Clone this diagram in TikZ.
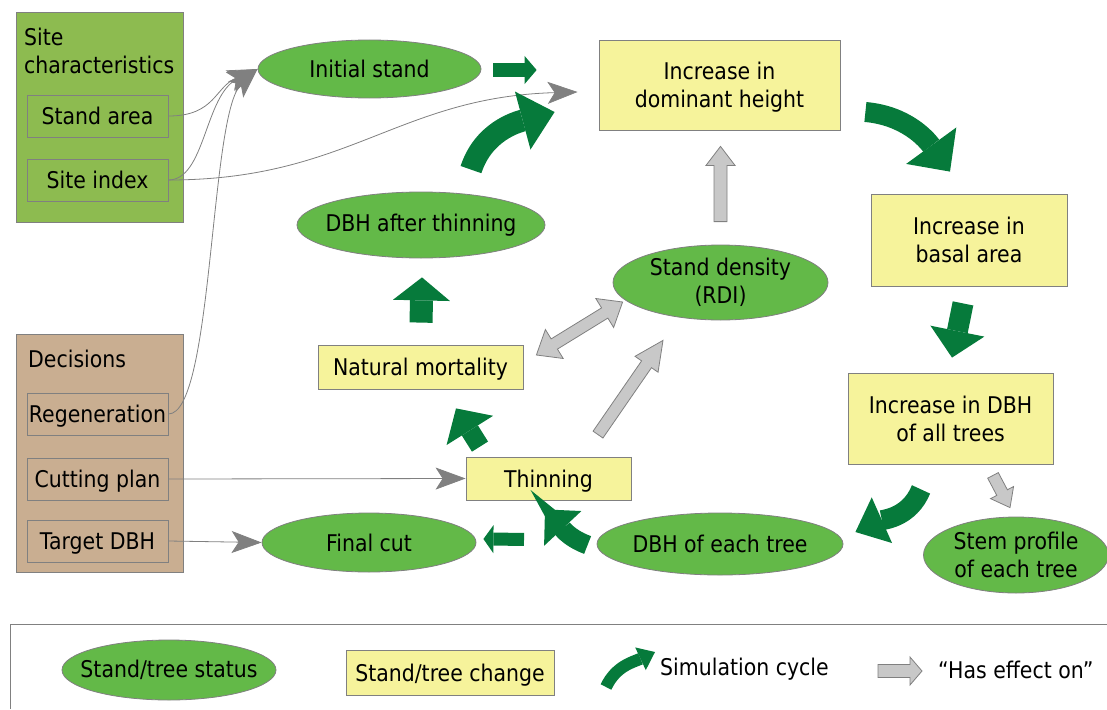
\documentclass[tikz,border=0pt]{standalone}
\usepackage{fontspec}
\setmainfont{DejaVu Sans}[FakeStretch=0.89]
\definecolor{sitegreen}{RGB}{141, 187, 80}
\definecolor{decisiontan}{RGB}{201, 174, 145}
\definecolor{statusgreen}{RGB}{99, 185, 72}
\definecolor{changeyellow}{RGB}{246, 243, 155}
\definecolor{cyclegreen}{RGB}{6, 122, 59}
\definecolor{effectgray}{RGB}{200, 200, 200}
\definecolor{linegray}{RGB}{128, 128, 128}
\usetikzlibrary{shapes.geometric, arrows.meta, calc}
\tikzset{
  statusnode/.style={ellipse, draw=linegray, fill=statusgreen, align=center, inner xsep=-25pt, inner ysep=-8pt, line width=0.8pt},
  changenode/.style={rectangle, draw=linegray, fill=changeyellow, align=center, inner sep=2pt, text depth=0pt, line width=0.8pt},
  inputnode/.style={rectangle, draw=linegray, fill=#1, minimum width=141pt, minimum height=42pt, inner sep=0pt, text depth=0pt, line width=0.8pt},
  groupbox/.style={rectangle, draw=linegray, fill=#1, inner sep=0pt, anchor=north west, line width=0.8pt},
  infoline/.style={draw=linegray, line width=0.8pt, -{Stealth[length=30pt, width=22pt, inset=7pt]}},
  cyclearrow/.style n args={3}{draw=cyclegreen, line width=#1, -{Triangle[width=#2, length=#3, line width=0pt]}},
  effectfill/.style={draw=linegray, fill=effectgray, line width=0.8pt, line join=miter},
}
\newcommand{\effectarrow}[5]{%
  \coordinate (eab) at ($(#2)!#5!(#1)$);
  \draw[effectfill] ($(#1)!#3!90:(#2)$) -- ($(eab)!#3!-90:(#1)$) -- ($(eab)!#4!-90:(#1)$) -- (#2)
    -- ($(eab)!#4!90:(#1)$) -- ($(eab)!#3!90:(#1)$) -- ($(#1)!#3!-90:(#2)$) -- cycle;
}
\newcommand{\effectboth}[5]{%
  \coordinate (eba) at ($(#1)!#5!(#2)$);
  \coordinate (ebb) at ($(#2)!#5!(#1)$);
  \draw[effectfill] (#1) -- ($(eba)!#4!90:(#2)$) -- ($(eba)!#3!90:(#2)$) -- ($(ebb)!#3!-90:(#1)$) -- ($(ebb)!#4!-90:(#1)$)
    -- (#2) -- ($(ebb)!#4!90:(#1)$) -- ($(ebb)!#3!90:(#1)$) -- ($(eba)!#3!-90:(#2)$) -- ($(eba)!#4!-90:(#2)$) -- cycle;
}
\begin{document}
\begin{tikzpicture}[x=1pt, y=1pt, font=\fontsize{23}{28}\selectfont]
\useasboundingbox (0,0) rectangle (1107,-709);

\node[groupbox=sitegreen, minimum width=167pt, minimum height=210pt] (sitebox) at (16,-12) {};
\node[anchor=north west, align=left, inner sep=0pt] (sitelabel) at (24,-28) {Site\\characteristics};
\node[inputnode=sitegreen] (standarea) at (97.5,-116) {Stand area};
\node[inputnode=sitegreen] (siteindex) at (97.5,-180) {Site index};

\node[groupbox=decisiontan, minimum width=167pt, minimum height=238pt] (decbox) at (16,-334) {};
\node[anchor=west, inner sep=0pt] (declabel) at (28,-359) {Decisions};
\node[inputnode=decisiontan] (regen) at (97.5,-414) {Regeneration};
\node[inputnode=decisiontan] (cutplan) at (97.5,-479) {Cutting plan};
\node[inputnode=decisiontan] (targetdbh) at (97.5,-541) {Target DBH};

\node[statusnode, minimum width=223pt, minimum height=58pt] (initstand) at (369.5,-69) {Initial stand};
\node[statusnode, minimum width=248pt, minimum height=66pt] (dbhthin) at (421,-225) {DBH after thinning};
\node[statusnode, minimum width=215pt, minimum height=75pt] (rdi) at (720.5,-282.5) {Stand density\\(RDI)};
\node[statusnode, minimum width=214pt, minimum height=59pt] (finalcut) at (369,-542.5) {Final cut};
\node[statusnode, minimum width=246pt, minimum height=62pt] (dbheach) at (720,-544) {DBH of each tree};
\node[statusnode, minimum width=185pt, minimum height=76pt] (stemprof) at (1016,-555) {Stem profile\\of each tree};

\node[changenode, minimum width=241pt, minimum height=90pt] (domh) at (719.5,-85) {Increase in\\dominant height};
\node[changenode, minimum width=196pt, minimum height=92pt] (basal) at (969,-240) {Increase in\\basal area};
\node[changenode, minimum width=205pt, minimum height=91pt] (dbhall) at (950.5,-418.5) {Increase in DBH\\of all trees};
\node[changenode, minimum width=205pt, minimum height=44pt] (mort) at (420.5,-367) {Natural mortality};
\node[changenode, minimum width=165pt, minimum height=43pt] (thin) at (548.5,-478.5) {Thinning};

\draw[infoline] (standarea.east) .. controls +(47,0) and +(-43,-18) .. (initstand.west);
\draw[infoline] (siteindex.east) .. controls +(37,0) and +(-53,-26) .. (initstand.west);
\draw[infoline] (regen.east) .. controls +(45,0) and +(-48,-45) .. (initstand.west);
\coordinate (domtip) at ($(domh.west)+(-21,-7)$);
\draw[infoline] (siteindex.east) .. controls +(180,0) and +(-180,-5) .. (domtip);
\draw[infoline] (cutplan.east) -- (thin.west);
\draw[infoline] (targetdbh.east) -- (finalcut.west);

\draw[cyclearrow={14pt}{28pt}{12pt}] ($(initstand.east)+(12,-1)$) -- ($(domh.west)+(-62,15)$);
\draw[cyclearrow={22pt}{60pt}{33pt}] ($(dbhthin.north)+(50,22)$) to[out=72, in=195] ($(domh.west)+(-44,-27)$);
\draw[cyclearrow={20pt}{62pt}{32pt}] ($(domh.east)+(25,-27)$) to[out=-5, in=126] ($(basal.north)+(-19,22)$);
\draw[cyclearrow={21pt}{55pt}{27pt}] ($(basal.south)+(-6,-17)$) -- ($(dbhall.north)+(1.5,15)$);
\draw[cyclearrow={20pt}{50pt}{29pt}] ($(dbhall.south)+(-29.5,-25)$) to[out=-112, in=24] ($(dbheach.east)+(12,12)$);
\draw[cyclearrow={19pt}{51pt}{26pt}] ($(dbheach.west)+(-9,-1)$) to[out=160, in=-47] ($(thin.south)+(-3.5,-9)$);
\draw[cyclearrow={13pt}{28pt}{10pt}] ($(thin.south)+(-24.5,-39)$) -- ($(finalcut.east)+(7,3.5)$);
\draw[cyclearrow={19pt}{55pt}{26pt}] ($(thin.north)+(-68.5,10)$) -- ($(mort.south)+(35.5,-19)$);
\draw[cyclearrow={23pt}{57pt}{23pt}] ($(mort.north)+(0.5,22)$) -- ($(dbhthin.south)+(1,-19)$);

\coordinate (a1s) at ($(rdi.north)+(0,23)$);
\coordinate (a1e) at ($(domh.south)+(1,-16)$);
\effectarrow{a1s}{a1e}{6.5pt}{14.5pt}{19pt}
\coordinate (a2s) at ($(thin.north)+(49.5,22)$);
\coordinate (a2e) at ($(rdi.south)+(-57.5,-20)$);
\effectarrow{a2s}{a2e}{6pt}{14pt}{29pt}
\coordinate (a3s) at ($(mort.east)+(13,12)$);
\coordinate (a3e) at ($(rdi.west)+(10,-19.5)$);
\effectboth{a3s}{a3e}{6pt}{17pt}{21pt}
\coordinate (a4s) at ($(dbhall.south)+(42.5,-11)$);
\coordinate (a4e) at ($(stemprof.north)+(-6,9)$);
\effectarrow{a4s}{a4e}{6pt}{13pt}{17pt}

\draw[linegray, line width=1pt] (1107,-624) -- (10,-624) -- (10,-709);
\node[statusnode, minimum width=214pt, minimum height=60pt] (legstatus) at (169,-670) {Stand/tree status};
\node[changenode, minimum width=208pt, minimum height=45pt] (legchange) at (450,-672.5) {Stand/tree change};
\node[anchor=west, inner sep=0pt] (legcycle) at (660,-669) {Simulation cycle};
\node[anchor=west, inner sep=0pt] (legeffect) at (938,-670) {“Has effect on”};
\draw[cyclearrow={12pt}{25pt}{16pt}] ($(legcycle.west)+(-54,-18)$) to[out=65, in=205] ($(legcycle.west)+(-5,17)$);
\coordinate (a5s) at ($(legeffect.west)+(-60,-1)$);
\coordinate (a5e) at ($(legeffect.west)+(-16,-1)$);
\effectarrow{a5s}{a5e}{6.5pt}{14pt}{12pt}
\end{tikzpicture}
\end{document}
